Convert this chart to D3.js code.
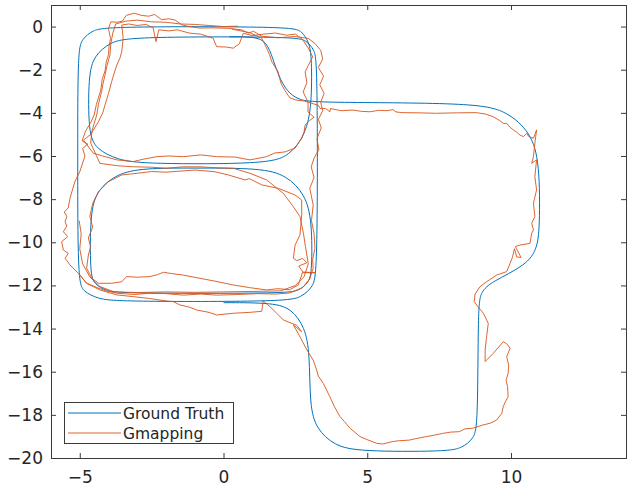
<!DOCTYPE html>
<meta charset="utf-8">
<title>Ground Truth vs Gmapping</title>
<style>
    body { margin: 0; background: #fff; }
    text { font-family: "DejaVu Sans", sans-serif; fill: #262626; }
</style>
<body>
<script src="https://d3js.org/d3.v7.min.js"></script>
<script>
var width = 636, height = 489;

var xTicks = [-5, 0, 5, 10];
var yTicks = [0, -2, -4, -6, -8, -10, -12, -14, -16, -18, -20];
var seriesNames = ["Ground Truth", "Gmapping"];
var seriesColors = ["#0072bd", "#d95319"];

// ground truth (corners given as a few arc points, drawn as a b-spline)
var truthLoop = [
    [-5.07,-6.0],
    [-5.07,-1.16],[-4.93,-0.58],[-4.54,-0.16],[-4.0,0],
    [2.37,0],[2.72,-0.2],[2.98,-0.73],[3.07,-1.46],
    [3.07,-3.64],[2.86,-5.0],[2.29,-6.0],[1.5,-6.37],
    [-2.7,-6.37],[-3.7,-6.18],[-4.43,-5.67],[-4.7,-4.97],
    [-4.7,-2.24],[-4.5,-1.36],[-3.95,-0.72],[-3.2,-0.47],
    [2.47,-0.47],[2.87,-0.63],[3.16,-1.07],[3.27,-1.67],
    [3.27,-11.36],[3.12,-12.06],[2.71,-12.55],[2.14,-12.75],
    [-3.67,-12.75],[-4.37,-12.62],[-4.88,-12.28],[-5.07,-11.8],
    [-5.07,-6.0]
];
var truthInner = [
    [-1.0,-6.56],
    [1.3,-6.56],[2.19,-6.89],[2.84,-7.78],[3.08,-9.0],
    [3.08,-11.37],[2.96,-11.87],[2.63,-12.24],[2.18,-12.37],
    [-3.54,-12.37],[-4.09,-12.25],[-4.49,-11.94],[-4.64,-11.5],
    [-4.64,-8.6],[-4.39,-7.58],[-3.72,-6.83],[-2.8,-6.56],
    [-1.0,-6.56]
];
var truthRight = [
    [0.2,-0.47],[1.1,-0.47],[1.5,-0.7],[1.72,-1.5],[1.92,-2.3],[2.2,-3.0],[2.6,-3.4],[3.2,-3.53],
    [8.69,-3.53],[9.85,-3.9],[10.69,-4.92],[11.0,-6.3],
    [11.0,-9.4],[10.9,-10.3],[10.55,-11.05],[9.3,-11.85],[8.95,-12.3],[8.85,-13.0],
    [8.85,-18.5],[8.7,-19.1],[8.3,-19.54],[7.75,-19.7],
    [4.7,-19.7],[3.85,-19.42],[3.23,-18.65],[3.0,-17.6],
    [3.0,-15.1],[2.83,-13.95],[2.38,-13.1],[1.75,-12.8],
    [0.0,-12.8]
];

// gmapping estimate
var gmapOuter = [
    [-5.51,-9.05],[-5.45,-8.8],[-5.54,-8.6],[-5.4,-8.4],[-5.34,-7.96],[-5.17,-7.19],[-5.0,-6.73],[-4.82,-6.0],
    [-4.9,-5.65],[-4.72,-5.45],[-4.92,-5.3],[-4.8,-4.85],[-4.62,-4.45],[-4.5,-4.1],[-4.42,-3.6],[-4.27,-2.95],
    [-4.22,-2.45],[-4.12,-2.05],[-4.08,-1.65],[-4.0,-1.3],[-3.98,-0.9],[-3.93,-0.55],[-4.0,-0.1],[-3.92,0.22],
    [-3.7,0.2],[-3.52,0.25],[-3.38,0.52],[-3.1,0.62],[-2.86,0.52],[-2.6,0.48],[-2.4,0.56],[-2.15,0.32],
    [-1.9,0.36],[-1.68,0.3],[-1.45,0.08],[-1.2,0.0],[-0.82,-0.07],[-0.4,-0.06],[0.15,-0.08],[0.62,-0.15],
    [0.86,-0.3],[1.05,-0.22],[1.33,-0.45],[1.9,-0.52],[2.48,-0.46],[2.95,-0.55],[3.18,-0.78],[3.38,-1.1],
    [3.45,-1.5],[3.3,-1.9],[3.48,-2.3],[3.35,-2.7],[3.5,-3.1],[3.38,-3.5],[3.45,-3.9],[3.3,-4.3],
    [3.4,-4.7],[3.25,-5.2],[3.32,-5.7],[3.15,-6.1],[3.05,-6.5],[3.15,-7.0],[3.0,-7.5],[3.12,-8.27],
    [3.06,-9.0],[3.15,-9.6],[3.18,-10.28],[3.1,-10.8],[3.12,-11.2],[3.0,-11.7],[2.75,-12.1],[2.3,-12.35],
    [1.8,-12.4],[1.2,-12.38],[0.5,-12.42],[-0.24,-12.45],[-0.8,-12.4],[-1.4,-12.45],[-2.0,-12.38],[-2.56,-12.36],
    [-3.1,-12.42],[-3.71,-12.36],[-4.1,-12.25],[-4.4,-12.1],[-4.76,-11.9],[-5.05,-11.44],[-5.34,-11.05],[-5.51,-10.74],
    [-5.4,-10.51],[-5.57,-10.36],[-5.63,-9.97],[-5.42,-9.74],[-5.57,-9.51],[-5.45,-9.25],[-5.51,-9.05]
];
var gmapTop = [
    [-4.87,-5.26],[-4.62,-5.0],[-4.35,-4.41],[-4.2,-4.0],[-4.12,-3.63],[-4.0,-3.1],[-3.89,-2.55],[-3.8,-2.15],
    [-3.71,-1.78],[-3.6,-1.45],[-3.54,-1.16],[-3.49,-0.54],[-3.54,0.07],[-3.3,0.12],[-3.0,0.05],[-2.7,0.1],
    [-2.45,-0.05],[-2.35,-0.7],[-2.25,-0.15],[-1.9,-0.2],[-1.6,-0.15],[-1.2,-0.3],[-0.8,-0.35],[-0.36,-0.54],
    [-0.24,-0.93],[0.1,-0.95],[0.34,-1.0],[0.55,-0.8],[0.69,-0.31],[1.0,-0.42],[1.4,-0.35],[1.8,-0.3],
    [2.2,-0.4],[2.5,-0.35],[2.75,-0.6],[2.95,-1.0],[3.1,-1.4],[2.95,-1.8],[2.84,-2.1],[2.9,-2.6],
    [2.77,-3.03],[2.94,-3.5],[2.94,-3.96],[3.15,-4.2],[3.0,-4.35],[2.84,-4.56],[2.8,-4.9],[2.73,-5.16],
    [2.49,-5.63],[2.14,-5.81],[1.79,-5.86],[1.5,-6.03],[0.92,-6.18],[0.4,-6.05],[-0.24,-6.03],[-0.8,-5.95],
    [-1.4,-6.03],[-1.9,-6.0],[-2.32,-6.03],[-2.8,-6.15],[-3.14,-6.26],[-3.71,-6.18],[-4.2,-6.0],[-4.53,-5.87],
    [-4.87,-5.26]
];
var gmapInner = [
    [-3.54,-11.83],[-3.37,-11.59],[-3.0,-11.62],[-2.56,-11.59],[-2.3,-11.5],[-2.09,-11.39],[-1.8,-11.45],[-1.4,-11.52],
    [-0.82,-11.67],[-0.3,-11.8],[0.34,-11.98],[0.9,-12.1],[1.5,-12.21],[1.9,-12.15],[2.3,-12.2],[2.6,-11.98],
    [2.72,-11.52],[2.74,-11.41],[3.2,-11.41],[2.76,-11.38],[2.62,-11.1],[2.9,-10.95],[2.75,-10.75],[2.55,-10.85],
    [2.43,-10.74],[2.49,-10.13],[2.66,-9.66],[2.72,-8.73],[2.72,-8.04],[2.49,-7.81],[1.91,-7.5],[1.33,-7.34],
    [0.9,-7.05],[0.75,-7.11],[0.17,-6.88],[-0.3,-6.73],[-0.99,-6.65],[-1.5,-6.7],[-2.0,-6.75],[-2.5,-6.72],
    [-3.0,-6.8],[-3.54,-6.88],[-4.0,-7.19],[-4.35,-7.65],[-4.55,-8.2],[-4.65,-8.8],[-4.55,-9.3],[-4.7,-9.8],
    [-4.62,-10.2],[-4.7,-10.59],[-4.76,-11.2],[-4.58,-11.67],[-4.35,-11.9],[-3.89,-11.9],[-3.54,-11.83]
];
var gmapCross = [
    [0.5,0.02],[0.0,0.0],[-0.5,0.05],[-1.0,0.1],[-1.5,0.12],[-2.0,0.2],[-2.5,0.22],[-3.0,0.3],
    [-3.4,0.25],[-3.75,0.12],[-3.85,-0.3],[-3.92,-0.8],[-3.95,-1.32],[-4.05,-1.8],[-4.12,-2.24],[-4.2,-2.7],
    [-4.24,-3.02],[-4.35,-3.6],[-4.41,-4.1],[-4.5,-4.5],[-4.58,-4.87],[-4.62,-5.4],[-4.45,-5.9],[-4.3,-6.34],
    [-3.7,-6.45],[-3.14,-6.5],[-2.5,-6.52],[-1.98,-6.57],[-1.4,-6.5],[-0.82,-6.5],[-0.2,-6.55],[0.34,-6.57],
    [0.92,-6.8],[1.5,-7.11],[2.08,-7.73],[2.43,-8.35],[2.66,-8.81],[2.78,-9.58],[2.85,-10.2],[2.95,-11.0],
    [2.8,-11.6],[2.5,-12.0],[2.0,-12.25],[1.0,-12.28],[0.0,-12.3],[-1.0,-12.32],[-2.0,-12.3],[-3.0,-12.33],
    [-3.8,-12.3],[-4.3,-12.05],[-4.65,-11.6],[-4.9,-11.0],[-5.0,-10.3],[-4.95,-9.6],[-5.02,-9.0]
];
var gmapRight = [
    [0.3,-0.12],[0.9,-0.28],[1.33,-0.54],[1.5,-1.0],[1.6,-1.3],[1.68,-1.63],[1.9,-2.1],[1.95,-2.4],
    [2.02,-2.7],[2.2,-3.1],[2.31,-3.3],[2.5,-3.4],[2.8,-3.45],[3.05,-3.55],[3.3,-3.65],[3.36,-3.79],
    [3.55,-3.8],[3.7,-3.95],[3.72,-3.8],[4.1,-3.9],[4.5,-3.87],[4.8,-3.93],[5.1,-3.95],[5.4,-3.88],
    [5.68,-3.9],[5.9,-3.85],[6.0,-3.96],[6.25,-3.99],[6.8,-4.0],[7.4,-4.02],[8.1,-4.0],[8.8,-3.99],
    [9.1,-4.05],[9.38,-4.18],[9.6,-4.35],[9.75,-4.5],[9.85,-4.48],[9.95,-4.65],[10.08,-4.79],[10.2,-4.9],
    [10.31,-5.03],[10.43,-5.1],[10.55,-4.95],[10.62,-5.1],[10.78,-5.18],[10.89,-4.79],[10.83,-5.41],[10.78,-6.03],
    [10.72,-6.34],[10.89,-6.18],[10.83,-6.96],[10.89,-7.57],[10.78,-8.19],[10.83,-8.81],[10.72,-9.12],[10.78,-9.43],
    [10.72,-9.58],[10.66,-10.05],[10.31,-10.13],[10.15,-10.2],[10.35,-10.7],[10.2,-10.68],[10.12,-10.3],[10.05,-10.7],
    [9.97,-10.97],[9.85,-11.36],[9.5,-11.52],[9.15,-11.83],[8.92,-12.06],[8.75,-12.4],[8.72,-12.75],[8.85,-12.99],
    [9.04,-13.29],[9.21,-13.76],[9.15,-14.38],[9.1,-14.99],[9.1,-15.53],[9.38,-15.15],[9.73,-14.61],[9.85,-14.7],
    [9.97,-14.91],[9.85,-15.3],[9.92,-15.7],[9.9,-16.07],[9.83,-16.4],[9.88,-16.69],[9.9,-17.16],[9.8,-17.4],
    [9.73,-17.62],[9.68,-17.93],[9.5,-18.24],[9.27,-18.39],[9.02,-18.47],[8.67,-18.62],[8.4,-18.65],[8.2,-18.78],
    [7.9,-18.8],[7.62,-18.86],[7.3,-18.95],[7.04,-19.01],[6.7,-19.1],[6.46,-19.17],[6.1,-19.2],[5.88,-19.24],
    [5.54,-19.35],[5.33,-19.32],[5.0,-19.15],[4.75,-19.01],[4.4,-18.62],[4.2,-18.3],[4.05,-18.08],[3.85,-17.6],
    [3.7,-17.16],[3.47,-16.54],[3.3,-16.2],[3.24,-15.92],[3.12,-15.46],[2.9,-14.99],[2.66,-14.38],[2.43,-13.83],
    [2.72,-14.15],[2.55,-13.85],[2.08,-13.6],[1.85,-13.29],[1.62,-12.99],[1.38,-12.71],[1.33,-13.2],[0.9,-13.25],
    [0.34,-13.29],[-0.24,-13.37],[-0.5,-13.25],[-0.93,-13.14],[-1.2,-13.0],[-1.51,-12.91],[-1.75,-12.75],[-2.0,-12.72],
    [-2.6,-12.6],[-3.14,-12.52],[-3.71,-12.44],[-4.3,-12.21],[-4.76,-11.9],[-5.0,-11.5]
];

var series = [
    {name: seriesNames[0], color: seriesColors[0], width: 1.0, curve: d3.curveBasis, parts: [truthLoop, truthInner, truthRight]},
    {name: seriesNames[1], color: seriesColors[1], width: 0.9, curve: d3.curveLinear, parts: [gmapOuter, gmapTop, gmapInner, gmapCross, gmapRight]}
];

var plot = {left: 51, right: 626, top: 5, bottom: 458};

var x = d3.scaleLinear().domain([-6, 14]).range([plot.left, plot.right]);
var y = d3.scaleLinear().domain([-20, 1]).range([plot.bottom, plot.top]);

var svg = d3.select("body").append("svg")
    .attr("width", width)
    .attr("height", height);

svg.append("rect")
    .attr("width", width).attr("height", height)
    .attr("fill", "#fff");

// lines
series.forEach(function(s) {
    var line = d3.line()
        .x(function(d) { return x(d[0]); })
        .y(function(d) { return y(d[1]); })
        .curve(s.curve);
    svg.append("g")
        .selectAll("path")
        .data(s.parts)
        .enter().append("path")
        .attr("d", line)
        .attr("fill", "none")
        .attr("stroke", s.color)
        .attr("stroke-width", s.width)
        .attr("stroke-linejoin", "round");
});

// axes, ticks pointing inward on all four sides
function styleAxis(g) {
    g.select(".domain").remove();
    g.selectAll(".tick line").attr("stroke", "#3a3a3a");
    g.selectAll(".tick text")
        .style("font-size", "17px")
        .attr("fill", "#262626");
}

svg.append("g")
    .attr("transform", "translate(0," + plot.bottom + ")")
    .call(d3.axisBottom(x).tickValues(xTicks).tickSizeInner(-5).tickSizeOuter(0).tickPadding(12.5))
    .call(styleAxis);

svg.append("g")
    .attr("transform", "translate(0," + plot.top + ")")
    .call(d3.axisTop(x).tickValues(xTicks).tickSizeInner(-5).tickSizeOuter(0).tickFormat(""))
    .call(styleAxis);

svg.append("g")
    .attr("transform", "translate(" + plot.left + ",0)")
    .call(d3.axisLeft(y).tickValues(yTicks).tickSizeInner(-5).tickSizeOuter(0).tickPadding(8))
    .call(styleAxis);

svg.append("g")
    .attr("transform", "translate(" + plot.right + ",0)")
    .call(d3.axisRight(y).tickValues(yTicks).tickSizeInner(-5).tickSizeOuter(0).tickFormat(""))
    .call(styleAxis);

svg.append("rect")
    .attr("x", plot.left + 0.5)
    .attr("y", plot.top + 0.5)
    .attr("width", plot.right - plot.left)
    .attr("height", plot.bottom - plot.top)
    .attr("fill", "none")
    .attr("stroke", "#3a3a3a")
    .attr("stroke-width", 1);

// legend
var legend = svg.append("g").attr("transform", "translate(64,402)");
legend.append("rect")
    .attr("x", 0.5).attr("y", 0.5)
    .attr("width", 169).attr("height", 41)
    .attr("fill", "#fff")
    .attr("stroke", "#3a3a3a");

var item = legend.selectAll(".item")
    .data(series)
    .enter().append("g")
    .attr("class", "item")
    .attr("transform", function(d, i) { return "translate(0," + (11 + i * 20) + ")"; });

item.append("line")
    .attr("x1", 4).attr("x2", 57)
    .attr("stroke", function(d) { return d.color; })
    .attr("stroke-width", function(d) { return d.width; });

item.append("text")
    .attr("x", 59)
    .attr("dy", "0.36em")
    .style("font-size", "15.5px")
    .text(function(d) { return d.name; });
</script>
</body>
